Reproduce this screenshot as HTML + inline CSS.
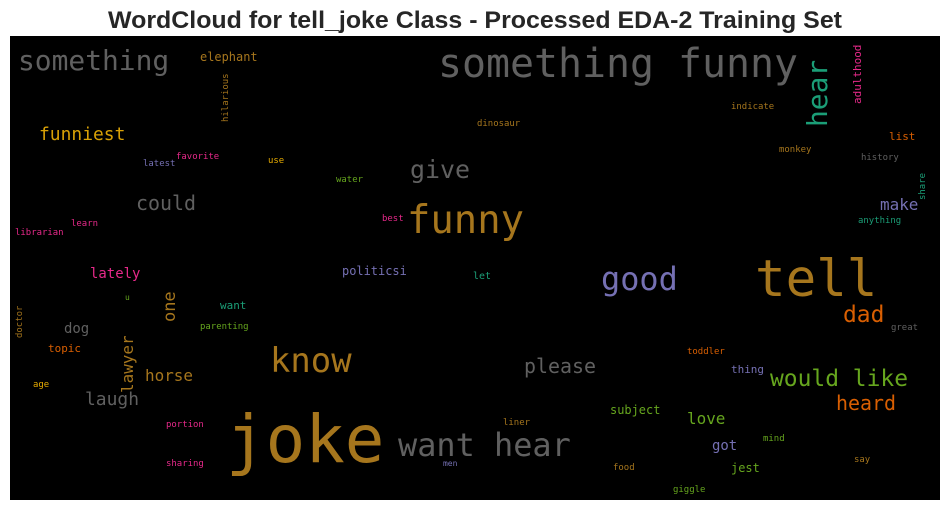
<!DOCTYPE html>
<html><head><meta charset="utf-8"><style>
html,body{margin:0;padding:0;background:#fff;width:950px;height:511px;overflow:hidden}
svg{display:block}
.w{font-family:"DejaVu Sans Mono","Liberation Mono",monospace}
</style></head><body>
<svg width="950" height="511">
<text x="475" y="28" text-anchor="middle" font-family="Liberation Sans, Arial, sans-serif" font-weight="bold" font-size="24" textLength="734" lengthAdjust="spacingAndGlyphs" fill="#262626">WordCloud for tell_joke Class - Processed EDA-2 Training Set</text>
<rect x="10" y="36" width="930" height="464" fill="#000"/>
<g id="words"></g>
</svg>
<script>
const words=[
["something funny",438,77,40,"#606060",0],
["something",18,70,28,"#606060",0],
["elephant",200,61,12,"#a6761d",0],
["hilarious",228,122,9,"#a6761d",-90],
["funniest",39,140,18,"#d9a106",0],
["latest",143,166,9,"#7570b3",0],
["favorite",176,159,9,"#e7298a",0],
["use",268,163,9,"#e6ab02",0],
["water",336,182,9,"#66a61e",0],
["give",410,178,25,"#606060",0],
["could",136,210,20,"#606060",0],
["funny",407,233,39,"#a6761d",0],
["best",382,221,9,"#e7298a",0],
["learn",71,226,9,"#e7298a",0],
["librarian",15,235,9,"#e7298a",0],
["lately",90,278,14,"#e7298a",0],
["politicsi",342,275,12,"#7570b3",0],
["let",473,279,10,"#1b9e77",0],
["good",601,290,32,"#7570b3",0],
["tell",755,296,51,"#a6761d",0],
["dad",843,322,23,"#d95f02",0],
["great",891,330,9,"#606060",0],
["u",125,300,8,"#66a61e",0],
["one",175,322,17,"#a6761d",-90],
["want",220,309,11,"#1b9e77",0],
["parenting",200,329,9,"#66a61e",0],
["doctor",22,338,9,"#a6761d",-90],
["dog",64,333,14,"#606060",0],
["topic",48,352,11,"#d95f02",0],
["lawyer",133,393,16,"#a6761d",-90],
["horse",145,381,16,"#a6761d",0],
["know",270,372,34,"#a6761d",0],
["age",33,387,9,"#e6ab02",0],
["laugh",85,405,18,"#606060",0],
["please",524,373,20,"#606060",0],
["toddler",687,354,9,"#d95f02",0],
["thing",731,373,11,"#7570b3",0],
["would like",770,386,23,"#66a61e",0],
["heard",836,410,20,"#d95f02",0],
["joke",226,462,66,"#a6761d",0],
["want hear",398,456,32,"#606060",0],
["portion",166,427,9,"#e7298a",0],
["sharing",166,466,9,"#e7298a",0],
["men",443,466,8,"#7570b3",0],
["liner",503,425,9,"#a6761d",0],
["subject",610,414,12,"#66a61e",0],
["love",687,424,16,"#66a61e",0],
["got",712,450,14,"#7570b3",0],
["mind",763,441,9,"#66a61e",0],
["jest",731,472,12,"#66a61e",0],
["food",613,470,9,"#a6761d",0],
["say",854,462,9,"#a6761d",0],
["giggle",673,492,9,"#66a61e",0],
["hear",827,127,28,"#1b9e77",-90],
["adulthood",861,104,11,"#e7298a",-90],
["indicate",731,109,9,"#a6761d",0],
["dinosaur",477,126,9,"#a6761d",0],
["list",889,140,11,"#d95f02",0],
["monkey",779,152,9,"#a6761d",0],
["history",861,160,9,"#606060",0],
["share",925,200,9,"#1b9e77",-90],
["make",880,210,16,"#7570b3",0],
["anything",858,223,9,"#1b9e77",0]
];
const g=document.getElementById('words');
const NS="http://www.w3.org/2000/svg";
words.forEach(w=>{
  const t=document.createElementNS(NS,'text');
  t.setAttribute('class','w');
  t.setAttribute('font-size',w[3]);
  t.setAttribute('fill',w[4]);
  t.setAttribute('textLength',(w[0].length*0.6*w[3]).toFixed(1));
  t.setAttribute('lengthAdjust','spacingAndGlyphs');
  if(w[5]){t.setAttribute('transform','translate('+w[1]+','+w[2]+') rotate('+w[5]+')');}
  else{t.setAttribute('x',w[1]);t.setAttribute('y',w[2]);}
  t.textContent=w[0];
  
  
  g.appendChild(t);
});
</script>
</body></html>
